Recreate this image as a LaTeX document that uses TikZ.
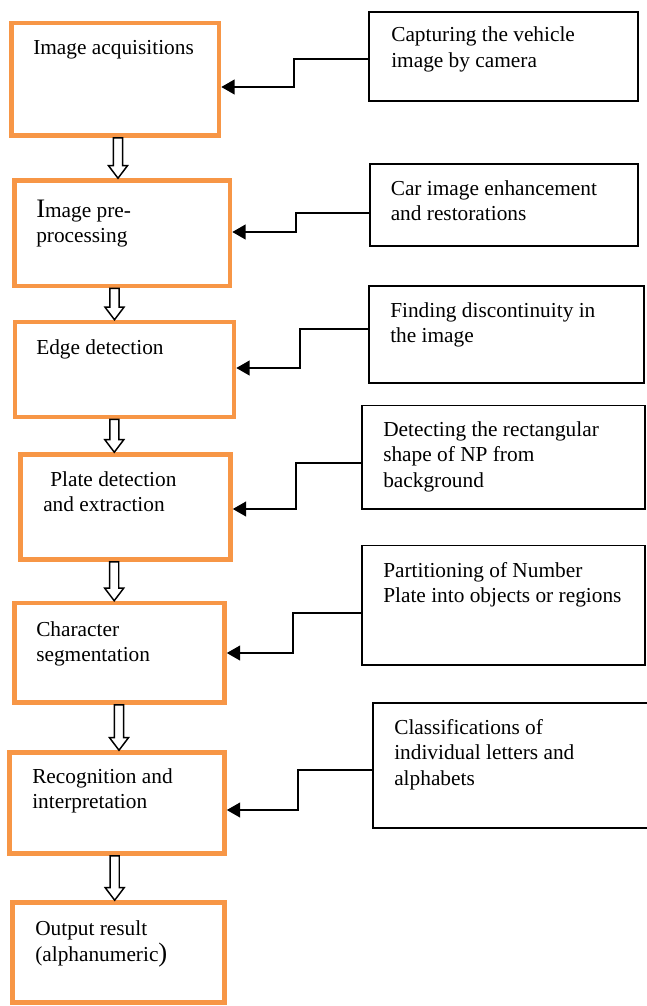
\documentclass[tikz,border=0pt]{standalone}
\usepackage{fontspec}
\setmainfont{Liberation Serif}
\usetikzlibrary{arrows.meta,fit,calc}
\definecolor{boxorange}{HTML}{F79646}
\newcommand\mlines[1]{\begin{tabular}[t]{@{}l@{}}#1\end{tabular}}
\newcommand\hollowarrow[3]{%
  \draw[blockarr] let \p1=(#2.south), \p2=(#3.north), \p3=(#1,0) in
    (\x3-3.4pt,\y1) -- (\x3+3.4pt,\y1) -- (\x3+3.4pt,\y2+9.4pt) -- (\x3+7.1pt,\y2+9.4pt)
    -- (\x3,\y2) -- (\x3-7.1pt,\y2+9.4pt) -- (\x3-3.4pt,\y2+9.4pt) -- cycle;}
\begin{document}
\begin{tikzpicture}[x=0.75pt,y=-0.75pt,
  obox/.style={draw=boxorange, line width=3.4pt, fill=white, inner sep=0pt},
  bbox/.style={draw=black, line width=1.3pt, fill=white, inner sep=0pt},
  txt/.style={anchor=base west, inner sep=0pt, font=\fontsize{16}{19.2}\selectfont},
  conn/.style={draw=black, line width=1.5pt, -{Triangle[length=10pt,width=11pt]}},
  blockarr/.style={draw=black, line width=1.1pt, fill=white, line join=miter}]
\useasboundingbox (0,0) rectangle (646,1006);

% orange process boxes
\node[obox, fit={(11.5,23) (219,135.5)}] (o1) {};
\node[obox, fit={(14.5,180.5) (230,286)}] (o2) {};
\node[obox, fit={(15,322) (234,417)}] (o3) {};
\node[obox, fit={(20.5,454.5) (230.5,559.5)}] (o4) {};
\node[obox, fit={(14.5,603) (224.5,702.5)}] (o5) {};
\node[obox, fit={(9.5,752.5) (224.5,853.5)}] (o6) {};
\node[obox, fit={(12.5,902.5) (224.5,1002.5)}] (o7) {};

% black description boxes
\node[bbox, fit={(369,12) (638,101)}] (b1) {};
\node[bbox, fit={(370,164) (638,246)}] (b2) {};
\node[bbox, fit={(369,286) (644,383)}] (b3) {};
\node[bbox, fit={(362,405.5) (645,509)}] (b4) {};
\node[bbox, fit={(362,545.5) (645,665)}] (b5) {};
\node[bbox, fit={(373,703) (648,828)}] (b6) {};

% texts in orange boxes
\node[txt] (t1) at (33,55) {Image acquisitions};
\node[txt] (t2) at (36,217) {\mlines{{\fontsize{20}{19.2}\selectfont I}mage pre-\\processing}};
\node[txt] (t3) at (36,354) {Edge detection};
\node[txt] (t4a) at (50,486.5) {Plate detection};
\node[txt] (t4b) at (43,511.5) {and extraction};
\node[txt] (t5) at (36,636) {\mlines{Character\\segmentation}};
\node[txt] (t6) at (32,783) {\mlines{Recognition and\\interpretation}};
\node[txt] (t7) at (35,935) {\mlines{Output result\\(alphanumeric{\fontsize{20}{19.2}\selectfont )}}};

% texts in black boxes
\node[txt] (r1) at (391,42) {\mlines{Capturing the vehicle\\image by camera}};
\node[txt] (r2) at (390.5,195) {\mlines{Car image enhancement\\and restorations}};
\node[txt] (r3) at (390,317) {\mlines{Finding discontinuity in\\the image}};
\node[txt] (r4) at (383,436) {\mlines{Detecting the rectangular\\shape of NP from\\background}};
\node[txt] (r5) at (383,577) {\mlines{Partitioning of Number\\Plate into objects or regions}};
\node[txt] (r6) at (394,734) {\mlines{Classifications of\\individual letters and\\alphabets}};

% connectors
\draw[conn] (b1.west |- 0,59) -| (294,87) -- (o1.east |- 0,87);
\draw[conn] (b2.west |- 0,213) -| (296,232) -- (o2.east |- 0,232);
\draw[conn] (b3.west |- 0,329) -| (300,368) -- (o3.east |- 0,368);
\draw[conn] (b4.west |- 0,463) -| (296,509) -- (o4.east |- 0,509);
\draw[conn] (b5.west |- 0,613) -| (293,653) -- (o5.east |- 0,653);
\draw[conn] (b6.west |- 0,770) -| (298,810) -- (o6.east |- 0,810);

% hollow block arrows
\hollowarrow{118}{o1}{o2}
\hollowarrow{114.5}{o2}{o3}
\hollowarrow{114.3}{o3}{o4}
\hollowarrow{114.2}{o4}{o5}
\hollowarrow{119}{o5}{o6}
\hollowarrow{114.7}{o6}{o7}
\end{tikzpicture}
\end{document}
